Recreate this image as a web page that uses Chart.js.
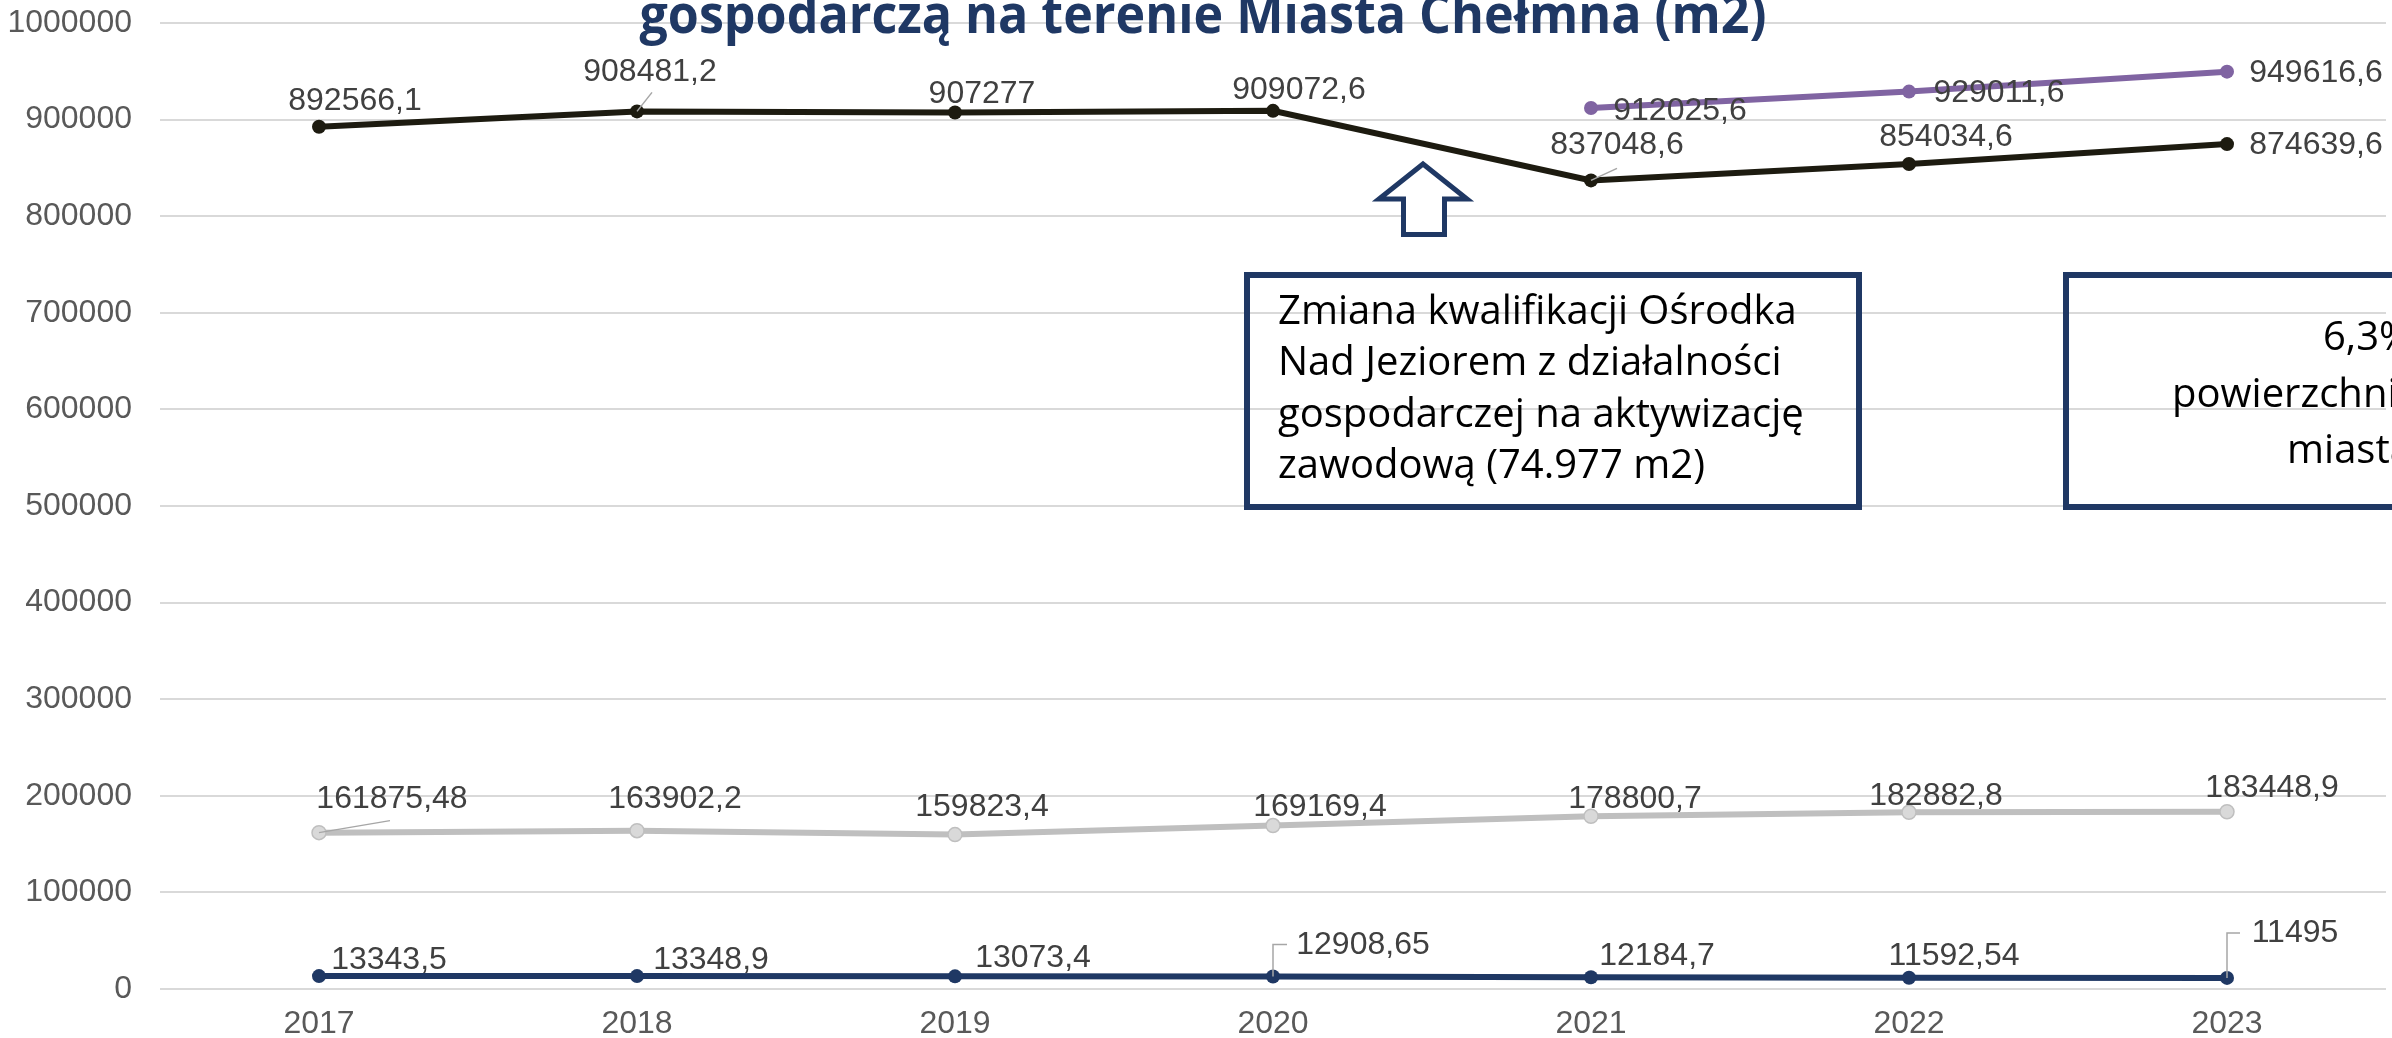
<!DOCTYPE html>
<html>
<head>
<meta charset="utf-8">
<script src="https://cdn.jsdelivr.net/npm/chart.js@4.4.0/dist/chart.umd.min.js"></script>
<style>
  html, body { margin: 0; padding: 0; background: #fff; }
  #wrap { width: 2392px; height: 1038px; }
</style>
</head>
<body>
<div id="wrap"><canvas id="chart"></canvas></div>
<script>
// data
const years = ['2017', '2018', '2019', '2020', '2021', '2022', '2023'];
const totalArea = [892566.1, 908481.2, 907277, 909072.6, 837048.6, 854034.6, 874639.6];
const totalWithLake = [null, null, null, null, 912025.6, 929011.6, 949616.6];
const secondArea = [161875.48, 163902.2, 159823.4, 169169.4, 178800.7, 182882.8, 183448.9];
const smallArea = [13343.5, 13348.9, 13073.4, 12908.65, 12184.7, 11592.54, 11495];
const yTicks = [0, 100000, 200000, 300000, 400000, 500000, 600000, 700000, 800000, 900000, 1000000];

const titleLine = 'gospodarczą na terenie Miasta Chełmna (m2)';
const noteLines = ['Zmiana kwalifikacji Ośrodka', 'Nad Jeziorem z działalności', 'gospodarczej na aktywizację', 'zawodową (74.977 m2)'];
const note2Lines = ['6,3%', 'powierzchni', 'miasta'];

const NAVY = '#1f3864';
const BLACK = '#1d1b10';

// label placement (offset of label centre from point), per dataset
const labelOffsets = [
  [[36, -26], [13, -39], [27, -18], [26, -21], [26, -35], [37, -27], [89, 1]],
  [null, null, null, null, [89, 3], [90, 2], [89, 2]],
  [[73, -33], [38, -31], [27, -27], [47, -18], [44, -17], [27, -16], [45, -24]],
  [[70, -16], [74, -16], [78, -18], [90, -31], [66, -21], [45, -22], [68, -45]]
];
// leader lines: ['line', dx, dy] or ['elbow', up, right]
const leaders = [
  [null, ['line', 15, -19], null, null, ['line', 26, -12], null, null],
  [null, null, null, null, null, null, null],
  [['line', 71, -12], null, null, null, null, null, null],
  [null, null, null, ['elbow', -32, 14], null, null, ['elbow', -45, 13]]
];

function fmt(v) {
  return String(v).replace('.', ',');
}

const labelPlugin = {
  id: 'valueLabels',
  afterDatasetsDraw(chart) {
    const ctx = chart.ctx;
    ctx.save();
    chart.data.datasets.forEach((ds, di) => {
      const meta = chart.getDatasetMeta(di);
      meta.data.forEach((pt, i) => {
        const v = ds.data[i];
        if (v === null || v === undefined) return;
        const off = labelOffsets[di][i];
        if (!off) return;
        const ld = leaders[di][i];
        if (ld) {
          ctx.strokeStyle = '#a6a6a6';
          ctx.lineWidth = 1.5;
          ctx.beginPath();
          if (ld[0] === 'line') {
            ctx.moveTo(pt.x, pt.y);
            ctx.lineTo(pt.x + ld[1], pt.y + ld[2]);
          } else {
            ctx.moveTo(pt.x, pt.y);
            ctx.lineTo(pt.x, pt.y + ld[1]);
            ctx.lineTo(pt.x + ld[2], pt.y + ld[1]);
          }
          ctx.stroke();
        }
        ctx.fillStyle = '#404040';
        ctx.font = '32px "Liberation Sans", Arial, sans-serif';
        ctx.textAlign = 'center';
        ctx.textBaseline = 'middle';
        ctx.fillText(fmt(v), pt.x + off[0], pt.y + off[1]);
      });
    });
    ctx.restore();
  }
};

const overlayPlugin = {
  id: 'overlay',
  afterDraw(chart) {
    const ctx = chart.ctx;
    ctx.save();

    // title (second line, top cut by the frame)
    ctx.fillStyle = NAVY;
    ctx.textAlign = 'center';
    ctx.textBaseline = 'alphabetic';
    ctx.font = 'bold 53px "Open Sans", sans-serif';
    ctx.fillText(titleLine, 1203, 33, 1127);

    // up arrow
    ctx.beginPath();
    ctx.moveTo(1423, 164);
    ctx.lineTo(1467, 199);
    ctx.lineTo(1444.5, 199);
    ctx.lineTo(1444.5, 234.5);
    ctx.lineTo(1403.5, 234.5);
    ctx.lineTo(1403.5, 199);
    ctx.lineTo(1379, 199);
    ctx.closePath();
    ctx.fillStyle = '#fff';
    ctx.fill();
    ctx.strokeStyle = NAVY;
    ctx.lineWidth = 5;
    ctx.lineJoin = 'miter';
    ctx.stroke();

    // note boxes
    ctx.lineWidth = 6;
    ctx.strokeRect(1247, 275, 612, 232);
    ctx.strokeRect(2066, 275, 700, 232);

    ctx.fillStyle = '#000';
    ctx.textAlign = 'left';
    ctx.font = '40px "Open Sans", sans-serif';
    noteLines.forEach((t, i) => ctx.fillText(t, 1278, 324 + i * 51.3));

    ctx.font = '40px "Open Sans", sans-serif';
    const n2x = [2323, 2172, 2287];
    note2Lines.forEach((t, i) => ctx.fillText(t, n2x[i], 350 + i * 56.5));

    ctx.restore();
  }
};

const canvas = document.getElementById('chart');
new Chart(canvas, {
  type: 'line',
  data: {
    labels: years,
    datasets: [
      {
        label: 'total',
        data: totalArea,
        borderColor: BLACK,
        backgroundColor: BLACK,
        borderWidth: 6,
        pointRadius: 7,
        pointBorderWidth: 0
      },
      {
        label: 'total2',
        data: totalWithLake,
        borderColor: '#8064a2',
        backgroundColor: '#8064a2',
        borderWidth: 6,
        pointRadius: 7,
        pointBorderWidth: 0
      },
      {
        label: 'second',
        data: secondArea,
        borderColor: '#bfbfbf',
        backgroundColor: '#d9d9d9',
        pointBorderColor: '#bfbfbf',
        borderWidth: 6,
        pointRadius: 7,
        pointBorderWidth: 1.5
      },
      {
        label: 'small',
        data: smallArea,
        borderColor: NAVY,
        backgroundColor: NAVY,
        borderWidth: 6,
        pointRadius: 7,
        pointBorderWidth: 0
      }
    ]
  },
  options: {
    responsive: true,
    maintainAspectRatio: false,
    animation: false,
    layout: { autoPadding: false, padding: { top: 23, right: 6, left: 0, bottom: 0 } },
    plugins: {
      legend: { display: false },
      tooltip: { enabled: false }
    },
    elements: { line: { tension: 0 } },
    scales: {
      x: {
        offset: true,
        grid: { display: false },
        border: { display: false },
        ticks: {
          color: '#595959',
          font: { family: '"Liberation Sans", Arial, sans-serif', size: 32 },
          padding: 8
        },
        afterFit(scale) {
          scale.height = 49;
          scale.paddingLeft = 0;
          scale.paddingRight = 0;
        }
      },
      y: {
        min: 0,
        max: 1000000,
        afterBuildTicks(scale) { scale.ticks = yTicks.map(v => ({ value: v })); },
        grid: { color: '#d9d9d9', lineWidth: 2, drawTicks: false },
        border: { display: false },
        ticks: {
          color: '#595959',
          font: { family: '"Liberation Sans", Arial, sans-serif', size: 32 },
          padding: 28,
          callback: v => String(v)
        },
        afterFit(scale) {
          scale.width = 160;
          scale.paddingTop = 0;
          scale.paddingBottom = 0;
        }
      }
    }
  },
  plugins: [labelPlugin, overlayPlugin]
});
</script>
</body>
</html>
